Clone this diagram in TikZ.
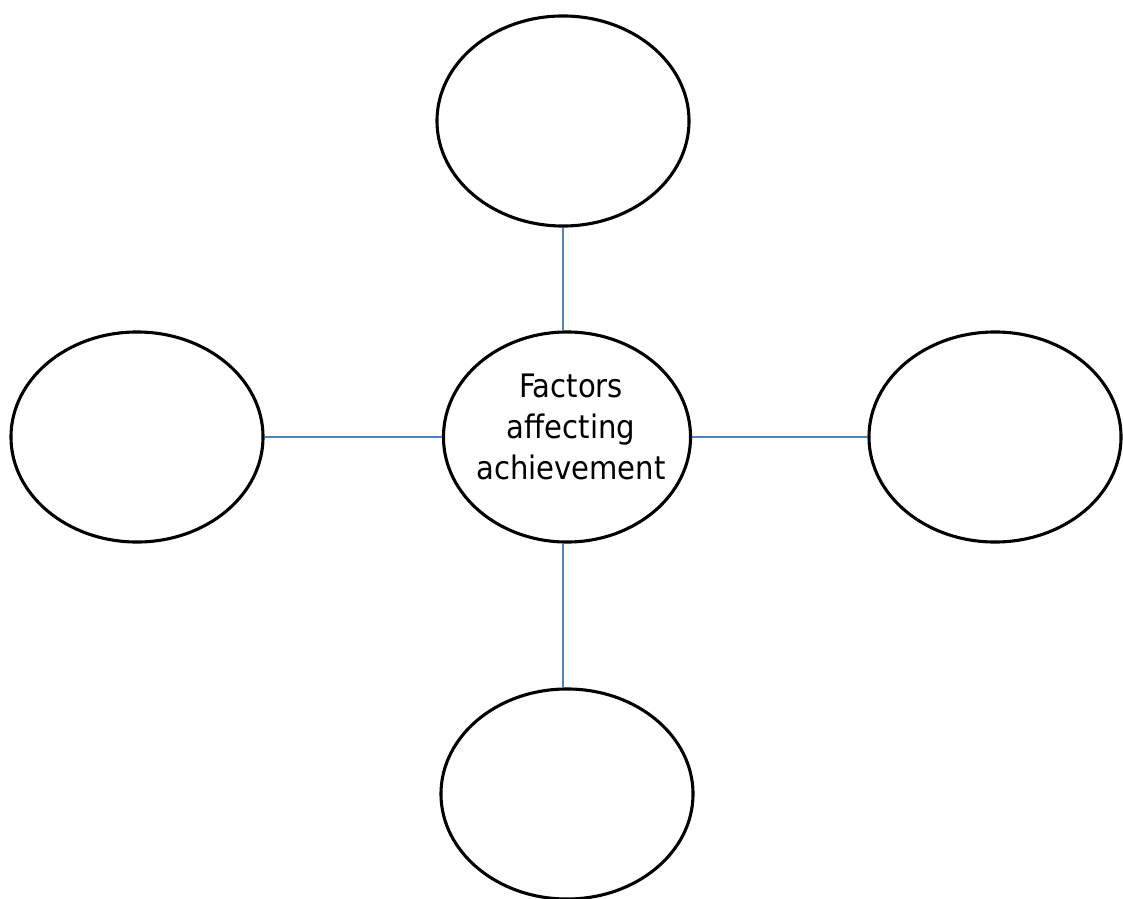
\documentclass[tikz,border=0pt]{standalone}
\usepackage{fontspec}
\setmainfont{DejaVu Sans Condensed}
\usetikzlibrary{shapes.geometric,positioning}
\definecolor{linkBlue}{HTML}{4F81BD}
\begin{document}
\begin{tikzpicture}[
  x=0.025cm,y=-0.025cm,
  bubble/.style={draw=black,line width=2.2pt,ellipse,fill=white,
                 minimum width=6.3cm,minimum height=5.25cm,inner sep=0pt},
  hub/.style={bubble,minimum width=6.175cm},
  hubtext/.style={align=center,inner sep=0pt,
                  font=\fontsize{23}{29}\selectfont},
  link/.style={draw=linkBlue,line width=1pt}
]
\useasboundingbox (0,0) rectangle (1123,899);
\node[hub]    (core)   at (567,437) {};
\node[hubtext] (coreLabel) at (571,427) {Factors\\affecting\\achievement};
\node[bubble] (top)    at (563,121) {};
\node[bubble] (left)   at (137,437) {};
\node[bubble] (right)  at (995,437) {};
\node[bubble] (bottom) at (567,794) {};
\draw[link] (top.south) -- (core.north -| top.south);
\draw[link] (left.east) -- (core.west);
\draw[link] (core.east) -- (right.west);
\draw[link] (core.south -| top.south) -- (bottom.north -| top.south);
\end{tikzpicture}
\end{document}
